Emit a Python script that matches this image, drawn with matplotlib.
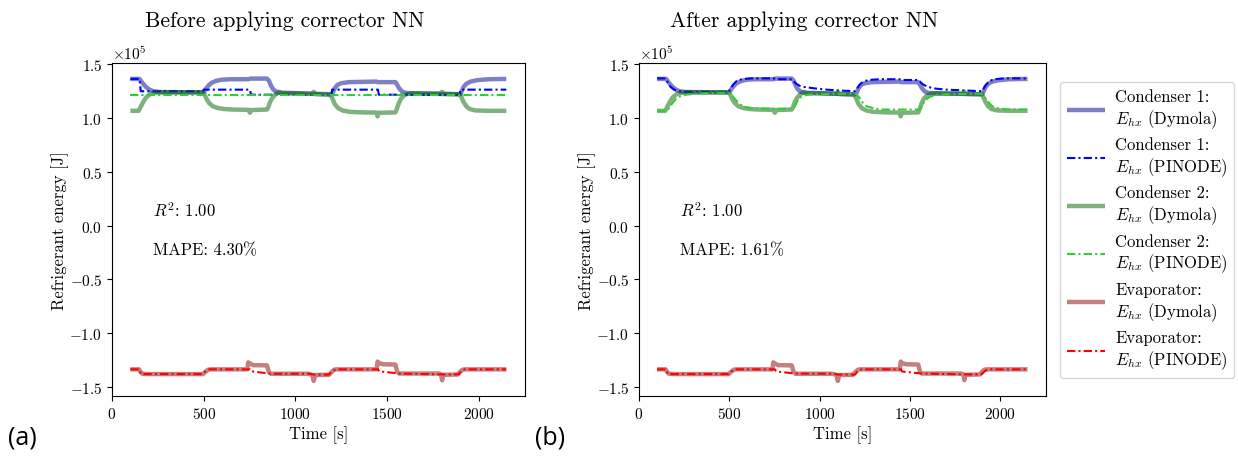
import matplotlib
matplotlib.use("Agg")
import matplotlib.pyplot as plt
from matplotlib.ticker import ScalarFormatter
import numpy as np

plt.rcParams['font.family'] = ['cmr10', 'DejaVu Serif']
plt.rcParams['mathtext.fontset'] = 'cm'
plt.rcParams['axes.formatter.use_mathtext'] = True
plt.rcParams['axes.unicode_minus'] = True

SCALE = 1e5  # values below are in units of 1e5 J

# ---------------- Dymola reference (shared by both panels) ----------------
t_c1_dym = [100, 150, 165, 185, 205, 225, 260, 495, 505, 515, 530, 545, 570, 600, 650, 745, 755, 845,
            855, 865, 878, 895, 915, 1000, 1100, 1195, 1205, 1215, 1230, 1250, 1290, 1440, 1450, 1545,
            1552, 1565, 1580, 1600, 1650, 1800, 1898, 1907, 1917, 1932, 1955, 1990, 2050, 2150]
e_c1_dym = [1.365, 1.365, 1.33, 1.29, 1.265, 1.25, 1.243, 1.240, 1.255, 1.28, 1.31, 1.33, 1.348, 1.358, 1.362, 1.362, 1.368, 1.368,
            1.35, 1.31, 1.27, 1.245, 1.236, 1.232, 1.226, 1.222, 1.24, 1.28, 1.31, 1.325, 1.335, 1.34, 1.335, 1.335,
            1.32, 1.28, 1.25, 1.235, 1.23, 1.225, 1.222, 1.25, 1.29, 1.32, 1.34, 1.353, 1.362, 1.365]

t_c2_dym = [100, 145, 155, 170, 185, 205, 230, 260, 495, 505, 515, 530, 550, 575, 610, 660, 745, 752, 760, 845,
            852, 862, 875, 890, 905, 912, 925, 1000, 1092, 1100, 1108, 1190, 1197, 1205, 1215, 1235, 1260, 1300,
            1380, 1442, 1448, 1455, 1545, 1552, 1562, 1575, 1592, 1610, 1650, 1792, 1800, 1808, 1898, 1907, 1917,
            1932, 1950, 1980, 2050, 2150]
e_c2_dym = [1.068, 1.068, 1.10, 1.15, 1.19, 1.22, 1.235, 1.240, 1.240, 1.22, 1.18, 1.14, 1.11, 1.095, 1.085, 1.08, 1.077, 1.05, 1.075, 1.08,
            1.10, 1.15, 1.19, 1.22, 1.236, 1.245, 1.233, 1.232, 1.226, 1.245, 1.224, 1.218, 1.20, 1.17, 1.13, 1.09, 1.07, 1.058,
            1.053, 1.052, 1.016, 1.05, 1.053, 1.08, 1.13, 1.18, 1.21, 1.225, 1.232, 1.228, 1.245, 1.226, 1.222, 1.19, 1.15,
            1.11, 1.085, 1.072, 1.068, 1.068]

t_ev_dym = [100, 148, 155, 165, 200, 495, 510, 525, 540, 738, 743, 752, 770, 845, 855, 866, 1070, 1092, 1100, 1108,
            1183, 1198, 1212, 1225, 1443, 1448, 1458, 1480, 1545, 1555, 1565, 1785, 1795, 1800, 1806, 1885, 1898,
            1912, 1925, 2150]
e_ev_dym = [-1.337, -1.337, -1.36, -1.378, -1.381, -1.381, -1.36, -1.34, -1.337, -1.337, -1.272, -1.282, -1.298, -1.30, -1.36, -1.378, -1.378, -1.388, -1.445, -1.39,
            -1.388, -1.36, -1.34, -1.337, -1.337, -1.265, -1.28, -1.29, -1.292, -1.36, -1.376, -1.376, -1.385, -1.438, -1.388, -1.385, -1.36,
            -1.34, -1.337, -1.337]

# ---------------- PINODE, before corrector NN ----------------
t_c1_pre = [100, 150, 157, 497, 500, 752, 758, 1197, 1200, 1450, 1455, 1897, 1900, 2150]
e_c1_pre = [1.365, 1.365, 1.25, 1.25, 1.265, 1.265, 1.218, 1.218, 1.265, 1.265, 1.218, 1.218, 1.265, 1.265]

t_c2_pre = [100, 2150]
e_c2_pre = [1.215, 1.215]

t_ev_pre = [100, 150, 157, 495, 510, 530, 752, 758, 866, 1075, 1100, 1183, 1200, 1220, 1450, 1456, 1565, 1790, 1890,
            1905, 1922, 2150]
e_ev_pre = [-1.337, -1.337, -1.381, -1.381, -1.355, -1.337, -1.337, -1.355, -1.378, -1.378, -1.386, -1.386, -1.355, -1.337, -1.337, -1.355, -1.376, -1.384, -1.384,
            -1.355, -1.337, -1.337]

# ---------------- PINODE, after corrector NN ----------------
t_c1_post = [100, 148, 160, 175, 195, 220, 260, 495, 505, 520, 540, 570, 620, 745, 755, 845, 855, 870, 890, 915, 970,
             1040, 1100, 1195, 1205, 1220, 1240, 1270, 1330, 1440, 1450, 1548, 1560, 1575, 1600, 1640, 1700, 1800,
             1895, 1905, 1920, 1940, 1965, 2020, 2150]
e_c1_post = [1.37, 1.37, 1.33, 1.29, 1.265, 1.25, 1.245, 1.243, 1.27, 1.31, 1.345, 1.362, 1.37, 1.37, 1.362, 1.362, 1.345, 1.32, 1.30, 1.29, 1.277,
             1.265, 1.258, 1.25, 1.27, 1.31, 1.34, 1.355, 1.362, 1.362, 1.355, 1.355, 1.33, 1.31, 1.29, 1.275, 1.265, 1.258,
             1.25, 1.27, 1.31, 1.345, 1.362, 1.37, 1.37]

t_c2_post = [100, 150, 165, 185, 205, 230, 260, 313, 400, 495, 510, 530, 550, 570, 600, 640, 750, 850, 862, 877, 895,
             915, 950, 1050, 1200, 1215, 1235, 1260, 1300, 1340, 1550, 1565, 1580, 1605, 1640, 1700, 1895, 1910, 1932,
             1955, 1990, 2030, 2150]
e_c2_post = [1.068, 1.068, 1.09, 1.14, 1.18, 1.205, 1.218, 1.228, 1.235, 1.238, 1.22, 1.18, 1.14, 1.115, 1.098, 1.09, 1.087, 1.087, 1.11, 1.16, 1.195,
             1.212, 1.22, 1.225, 1.228, 1.20, 1.15, 1.11, 1.09, 1.08, 1.08, 1.11, 1.16, 1.195, 1.215, 1.222, 1.228, 1.20, 1.15,
             1.11, 1.09, 1.082, 1.08]

t_ev_post = [100, 150, 160, 495, 512, 532, 752, 758, 866, 1075, 1100, 1195, 1210, 1230, 1450, 1456, 1565, 1790, 1895,
             1912, 1930, 2150]
e_ev_post = [-1.337, -1.337, -1.381, -1.381, -1.355, -1.337, -1.337, -1.357, -1.376, -1.378, -1.386, -1.386, -1.355, -1.337, -1.337, -1.357, -1.376, -1.384, -1.384,
             -1.355, -1.337, -1.337]

r2_values = ["1.00", "1.00"]
mape_values = ["4.30%", "1.61%"]
titles = ["Before applying corrector NN", "After applying corrector NN"]
panel_tags = ["(a)", "(b)"]

labels = ["Condenser 1:\n$E_{hx}$ (Dymola)", "Condenser 1:\n$E_{hx}$ (PINODE)",
          "Condenser 2:\n$E_{hx}$ (Dymola)", "Condenser 2:\n$E_{hx}$ (PINODE)",
          "Evaporator:\n$E_{hx}$ (Dymola)", "Evaporator:\n$E_{hx}$ (PINODE)"]

W, H = 1238, 460
fig = plt.figure(figsize=(W / 100, H / 100), dpi=100)

axes_px = [(112, 525), (639, 1046)]
top_px, bot_px = 64, 397
dd = (0, (4, 1.5, 1, 1.5))

pinode = [(t_c1_pre, e_c1_pre, t_c2_pre, e_c2_pre, t_ev_pre, e_ev_pre),
          (t_c1_post, e_c1_post, t_c2_post, e_c2_post, t_ev_post, e_ev_post)]

sc = lambda a: np.asarray(a) * SCALE

handles = None
for i, (l, r) in enumerate(axes_px):
    ax = fig.add_axes([l / W, 1 - bot_px / H, (r - l) / W, (bot_px - top_px) / H])
    tc1, ec1, tc2, ec2, tev, eev = pinode[i]
    h1, = ax.plot(t_c1_dym, sc(e_c1_dym), color='darkblue', alpha=0.5, lw=3.2, solid_capstyle='butt')
    h2, = ax.plot(tc1, sc(ec1), color='blue', lw=1.5, linestyle=dd)
    h3, = ax.plot(t_c2_dym, sc(e_c2_dym), color='darkgreen', alpha=0.5, lw=3.2, solid_capstyle='butt')
    h4, = ax.plot(tc2, sc(ec2), color='limegreen', lw=1.5, linestyle=dd)
    h5, = ax.plot(t_ev_dym, sc(e_ev_dym), color='darkred', alpha=0.5, lw=3.2, solid_capstyle='butt')
    h6, = ax.plot(tev, sc(eev), color='red', lw=1.5, linestyle=dd)
    handles = [h1, h2, h3, h4, h5, h6]

    ax.set_xlim(0, 2252)
    ax.set_ylim(-1.585 * SCALE, 1.513 * SCALE)
    ax.set_xticks([0, 500, 1000, 1500, 2000])
    fmt = ScalarFormatter(useMathText=True)
    fmt.set_powerlimits((0, 0))
    ax.yaxis.set_major_formatter(fmt)
    ax.tick_params(labelsize=11)
    ax.yaxis.get_offset_text().set_fontsize(11)
    ax.set_xlabel("Time [s]", fontsize=12, labelpad=3)
    ax.set_ylabel("Refrigerant energy [J]", fontsize=12, labelpad=0)
    ax.text(0.1, 0.56, "$R^2$: " + r2_values[i], transform=ax.transAxes, fontsize=12, va='center')
    ax.text(0.1, 0.44, "MAPE: " + mape_values[i], transform=ax.transAxes, fontsize=12, va='center')

fig.text(285 / W, 1 - 21 / H, titles[0], ha='center', va='center', fontsize=15.5)
fig.text(804 / W, 1 - 21 / H, titles[1], ha='center', va='center', fontsize=15.5)
fig.text(8 / W, 1 - 438 / H, panel_tags[0], ha='left', va='center', fontsize=18, family='Open Sans')
fig.text(535 / W, 1 - 438 / H, panel_tags[1], ha='left', va='center', fontsize=18, family='Open Sans')

fig.legend(handles, labels, loc='upper left', bbox_to_anchor=(1060 / W, 1 - 83 / H),
           fontsize=12, handlelength=2.3, handletextpad=0.6, labelspacing=0.42,
           frameon=True, borderaxespad=0)

fig.savefig("out.png", dpi=100)
